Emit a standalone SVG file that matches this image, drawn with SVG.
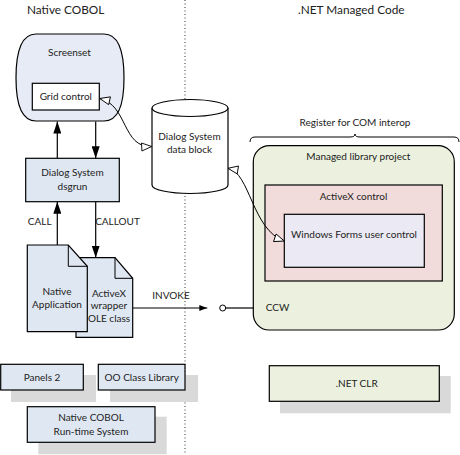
<svg xmlns="http://www.w3.org/2000/svg" width="460" height="455" viewBox="0 0 460 455">
<defs>
<style>
text{font-family:Lato,"Liberation Sans",sans-serif;font-size:10px;fill:#222;text-anchor:middle}
.title{font-size:11.8px;text-anchor:start}
.ln{fill:none;stroke:#000;stroke-width:1.2}
.thin{fill:none;stroke:#000;stroke-width:1}
.blue{fill:#dfe7f2;stroke:#000;stroke-width:1.2}
.green{fill:#ebf1de;stroke:#000;stroke-width:1.2}
.shadow{fill:#d9d9d9}
.l{text-anchor:start}
</style>
<marker id="fa" viewBox="0 0 12 8" refX="12" refY="4" markerWidth="12" markerHeight="8" markerUnits="userSpaceOnUse" orient="auto"><path d="M0,0 L12,4 L0,8 Z" fill="#000"/></marker>
<marker id="fs" viewBox="0 0 8 6" refX="8" refY="3" markerWidth="8" markerHeight="6" markerUnits="userSpaceOnUse" orient="auto"><path d="M0,0 L8,3 L0,6 Z" fill="#000"/></marker>
<marker id="oa" viewBox="-1 -1 12 10" refX="10" refY="4" markerWidth="12" markerHeight="10" markerUnits="userSpaceOnUse" orient="auto-start-reverse"><path d="M0,0 L10,4 L0,8 Z" fill="#fff" stroke="#000" stroke-width="0.9"/></marker>
</defs>
<rect width="460" height="455" fill="#fff"/>

<line x1="185" y1="0" x2="185" y2="455" stroke="#333" stroke-width="1" stroke-dasharray="1,2.5"/>

<text class="title" x="27" y="14">Native COBOL</text>
<text class="title" x="298" y="14">.NET Managed Code</text>

<g id="screenset">
<path d="M36,34 H104 C118,34 124,50 124,78 C124,106 118,121 104,121 H36 C22,121 16,106 16,78 C16,50 22,34 36,34 Z" fill="#e6ebf5" stroke="#000" stroke-width="1.2"/>
<text x="69.5" y="55.5">Screenset</text>
</g>
<g id="grid-control">
<rect x="32.3" y="83.3" width="67" height="26.7" fill="#fff" stroke="#000" stroke-width="1.2"/>
<text x="65.8" y="99.7">Grid control</text>
</g>

<g id="dialog-system">
<rect class="blue" x="25.7" y="158.3" width="93.6" height="43.4"/>
<text x="72.5" y="176">Dialog System</text>
<text x="72.5" y="189.5">dsgrun</text>
</g>

<g id="data-block">
<path fill="#fff" stroke="#000" stroke-width="1.2" d="M152,108 V185 A38,8.5 0 0 0 228,185 V108"/>
<ellipse cx="190" cy="108" rx="38" ry="8.5" fill="#fff" stroke="#000" stroke-width="1.2"/>
<text x="189.5" y="140">Dialog System</text>
<text x="189.5" y="152.5">data block</text>
</g>

<g id="activex-wrapper">
<path class="blue" d="M76,257.7 H115 L132.7,278.3 V337.3 H76 Z"/>
<path class="thin" d="M115,257.7 V278.3 H132.7"/>
<text x="109" y="296.7">ActiveX</text>
<text x="109" y="309.3">wrapper</text>
<text x="109" y="321.7">OLE class</text>
</g>

<g id="native-app">
<path class="blue" d="M27.3,245 H68.3 L87.3,266.3 V331.7 H27.3 Z"/>
<path class="thin" d="M68.3,245 V266.3 H87.3"/>
<text x="57" y="295">Native</text>
<text x="57" y="307.7">Application</text>
</g>

<g id="panels2">
<rect class="shadow" x="11" y="375" width="85" height="27"/>
<rect class="blue" x="0.7" y="364.3" width="82.6" height="25.7"/>
<text x="42" y="380.5">Panels 2</text>
</g>
<g id="oo-class-library">
<rect class="shadow" x="110" y="375" width="88" height="27"/>
<rect class="blue" x="98.3" y="364.3" width="86.7" height="25.7"/>
<text x="141.7" y="380.5">OO Class Library</text>
</g>
<g id="runtime">
<rect class="shadow" x="38.3" y="416.7" width="128.4" height="37.6"/>
<rect class="blue" x="27.3" y="406.7" width="127.7" height="35.6"/>
<text x="91" y="421">Native COBOL</text>
<text x="91" y="434.5">Run-time System</text>
</g>

<g id="register-brace">
<path class="thin" d="M250,142 Q250,137 255,137 H350 Q355,137 355,134 Q355,137 360,137 H454 Q459,137 459,142"/>
<text x="355" y="125.5">Register for COM interop</text>
</g>

<g id="managed-library">
<rect class="green" x="253.3" y="145.7" width="201" height="184.3" rx="16" ry="16"/>
<text x="358.3" y="160">Managed library project</text>
<text class="l" x="265.7" y="310.5">CCW</text>
</g>
<g id="activex-control">
<rect x="265" y="185" width="177.3" height="96" fill="#f2dcdb" stroke="#000" stroke-width="1.2"/>
<text x="353.5" y="199.5">ActiveX control</text>
</g>
<g id="winforms-control">
<rect x="284.3" y="214.3" width="140" height="53" fill="#ebeaf4" stroke="#000" stroke-width="1.2"/>
<text x="354" y="237.5">Windows Forms user control</text>
</g>

<g id="net-clr">
<rect class="shadow" x="280" y="376" width="170.7" height="37.3"/>
<rect class="green" x="269.3" y="365.7" width="170" height="35.6"/>
<text x="356.7" y="386.5">.NET CLR</text>
</g>

<g id="connectors">
<line class="ln" x1="57.3" y1="158.3" x2="57.3" y2="121.5" marker-end="url(#fa)"/>
<line class="ln" x1="95.7" y1="121.5" x2="95.7" y2="158.3" marker-end="url(#fa)"/>
<line class="ln" x1="57.3" y1="245" x2="57.3" y2="201.7" marker-end="url(#fa)"/>
<line class="ln" x1="95.7" y1="201.7" x2="95.7" y2="257.7" marker-end="url(#fa)"/>
<line class="ln" x1="132.7" y1="308" x2="207.3" y2="308" marker-end="url(#fs)"/>
<line class="ln" x1="225.7" y1="308" x2="253.3" y2="308"/>
<circle cx="222.7" cy="308" r="3" fill="#fff" stroke="#000" stroke-width="1"/>
<path class="thin" d="M99.8,98.5 C128,105 122,148 151.7,146.5" marker-start="url(#oa)" marker-end="url(#oa)"/>
<path class="thin" d="M228,168.3 C250,172 252,230 284.3,241" marker-start="url(#oa)" marker-end="url(#oa)"/>
<text x="39.7" y="225">CALL</text>
<text x="117.5" y="225">CALLOUT</text>
<text x="171" y="299">INVOKE</text>
</g>
</svg>
